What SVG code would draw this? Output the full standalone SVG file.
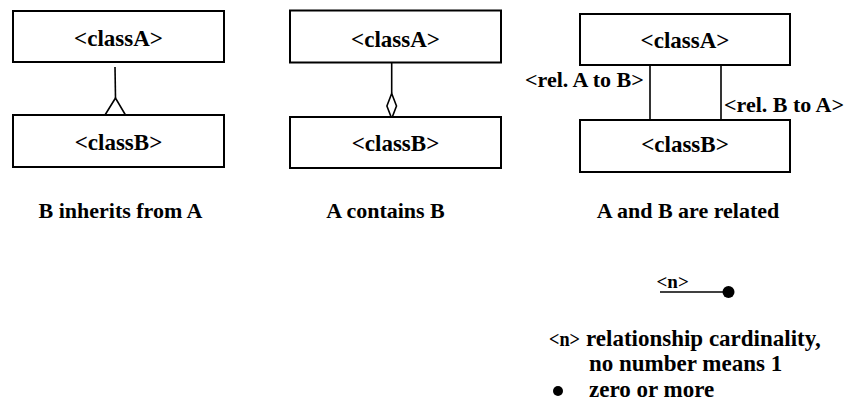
<svg xmlns="http://www.w3.org/2000/svg" width="846" height="406" viewBox="0 0 846 406">
<style>
.box{fill:#fff;stroke:#000;stroke-width:2}
.ln{fill:none;stroke:#000;stroke-width:1.6}
.hd{fill:#fff;stroke:#000;stroke-width:1.6}
</style>
<rect width="846" height="406" fill="#fff"/>
<g id="connectors">
<line class="ln" x1="115" y1="67" x2="115.5" y2="98"/>
<polygon class="hd" points="115.5,98 105,115 125.5,115"/>
<line class="ln" x1="391.7" y1="62" x2="391.7" y2="93.5"/>
<polygon class="hd" points="391.7,93.5 396.5,106 391.7,118.5 386.9,106"/>
<line class="ln" x1="650" y1="65" x2="650" y2="120"/>
<line class="ln" x1="721" y1="65" x2="721" y2="120"/>
</g>
<g id="inh-classA"><rect class="box" x="13" y="11" width="211" height="51"/><text font-family="Liberation Serif" font-weight="bold" text-anchor="middle" font-size="23" x="118.5" y="46">&lt;classA&gt;</text></g>
<g id="inh-classB"><rect class="box" x="13" y="115" width="211" height="52"/><text font-family="Liberation Serif" font-weight="bold" text-anchor="middle" font-size="23" x="118.5" y="150">&lt;classB&gt;</text></g>
<g id="agg-classA"><rect class="box" x="290" y="10.5" width="211" height="52"/><text font-family="Liberation Serif" font-weight="bold" text-anchor="middle" font-size="23" x="395.5" y="47">&lt;classA&gt;</text></g>
<g id="agg-classB"><rect class="box" x="290" y="117" width="211" height="51"/><text font-family="Liberation Serif" font-weight="bold" text-anchor="middle" font-size="23" x="395.5" y="151">&lt;classB&gt;</text></g>
<g id="rel-classA"><rect class="box" x="580" y="14" width="210" height="51"/><text font-family="Liberation Serif" font-weight="bold" text-anchor="middle" font-size="23" x="685" y="48">&lt;classA&gt;</text></g>
<g id="rel-classB"><rect class="box" x="580" y="120" width="210" height="52"/><text font-family="Liberation Serif" font-weight="bold" text-anchor="middle" font-size="23" x="685" y="152">&lt;classB&gt;</text></g>
<g id="labels" font-family="Liberation Serif" font-weight="bold" font-size="22">
<text x="525" y="87">&lt;rel. A to B&gt;</text>
<text x="724" y="112">&lt;rel. B to A&gt;</text>
<text text-anchor="middle" x="120.5" y="218">B inherits from A</text>
<text text-anchor="middle" x="385.5" y="218">A contains B</text>
<text text-anchor="middle" x="688" y="218">A and B are related</text>
</g>
<g id="legend" font-family="Liberation Serif" font-weight="bold" font-size="23">
<text x="656.5" y="288" font-size="19">&lt;n&gt;</text>
<line class="ln" x1="660" y1="292" x2="724" y2="292"/>
<circle cx="728.5" cy="292" r="6"/>
<text x="549" y="346" font-size="21" textLength="31" lengthAdjust="spacingAndGlyphs">&lt;n&gt;</text>
<text x="586" y="346">relationship cardinality,</text>
<text x="589" y="371">no number means 1</text>
<circle cx="558" cy="391" r="5"/>
<text x="589" y="397">zero or more</text>
</g>
</svg>
